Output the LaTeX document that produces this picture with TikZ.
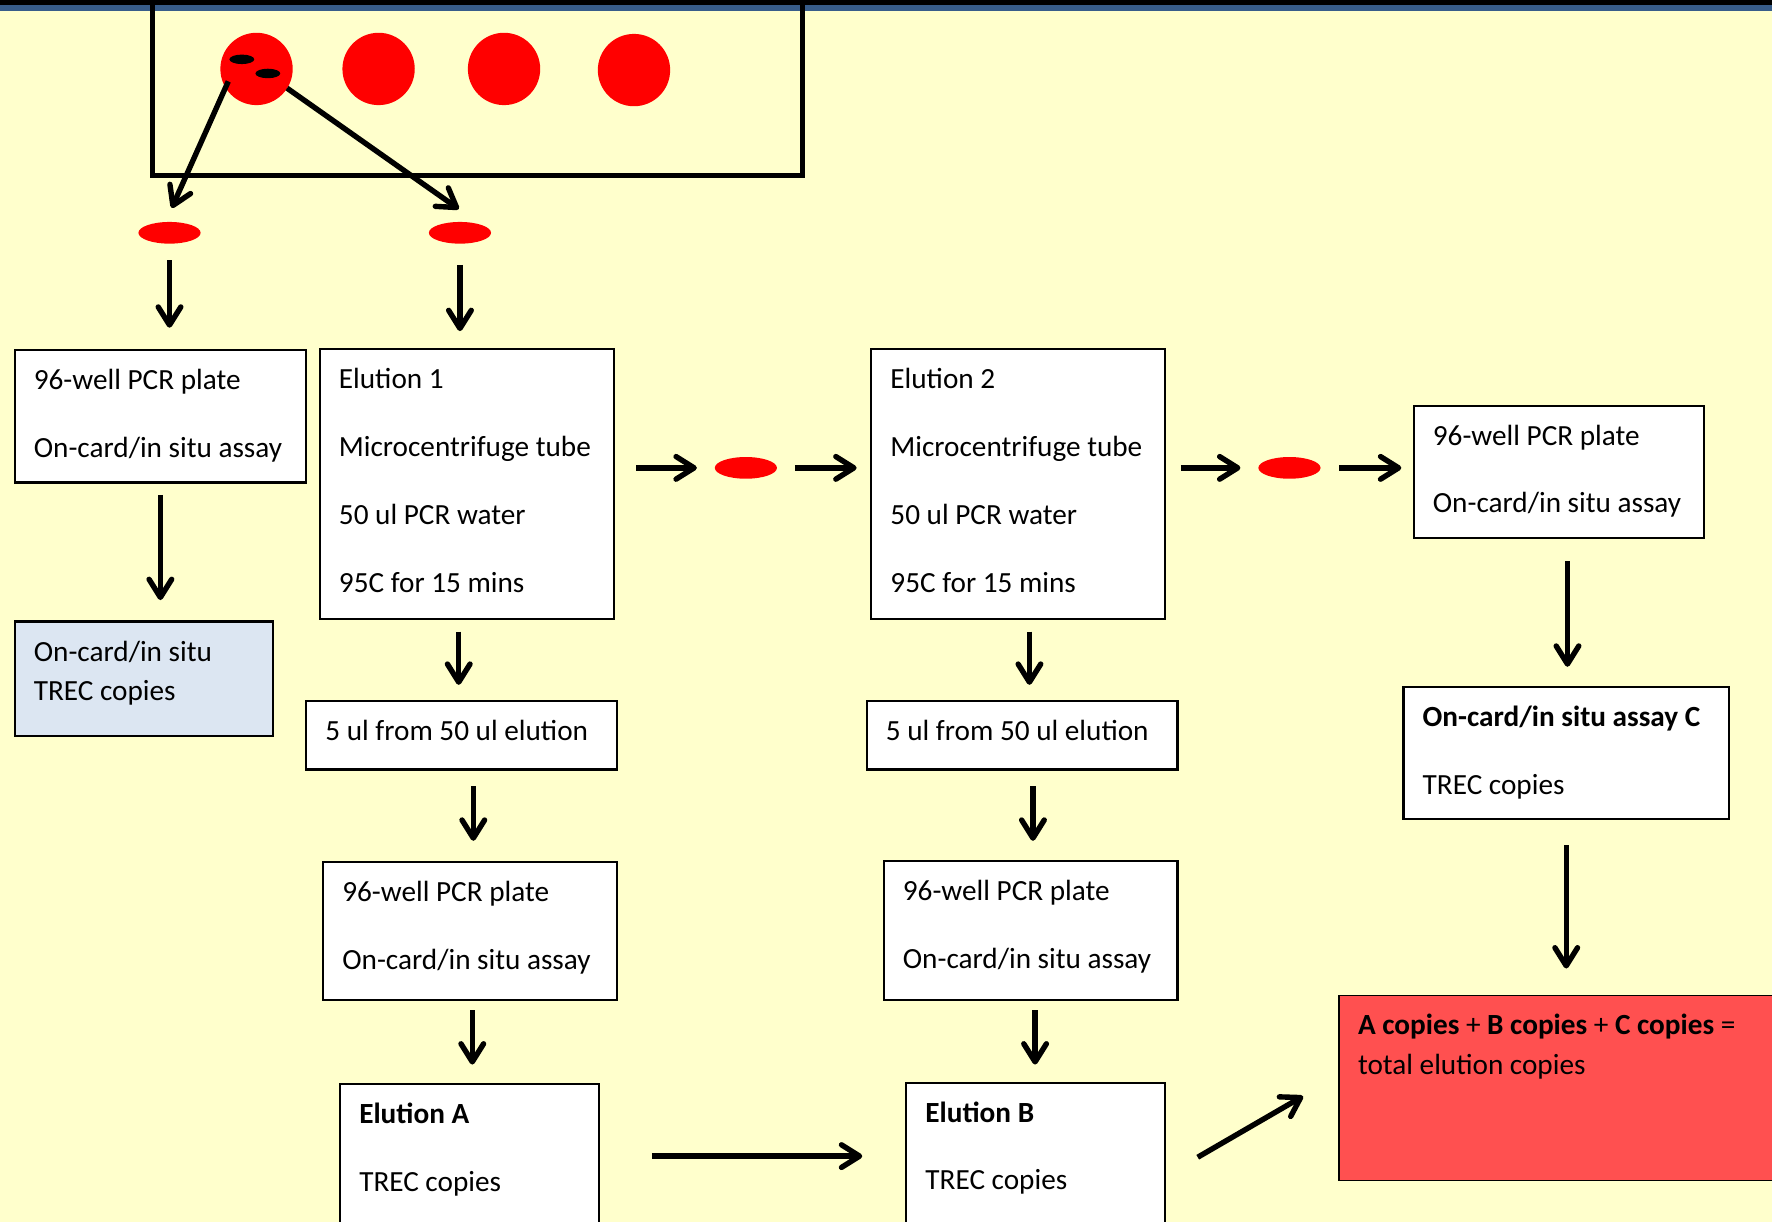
\documentclass[tikz,border=0pt]{standalone}
\usepackage{fontspec}
\setmainfont{Carlito}
\usetikzlibrary{arrows.meta, shapes.geometric, calc}

\definecolor{cardbg}{HTML}{FFFFCC}
\definecolor{barblue}{HTML}{385D8A}
\definecolor{spotred}{HTML}{FF0000}
\definecolor{sumred}{HTML}{FF5050}
\definecolor{insitublue}{HTML}{DCE6F2}

% box text: width, height, lines (top aligned)
\newcommand{\flowtext}[3]{\parbox[t][#2][t]{#1}{\hbadness=10000\leftskip=4.25mm\rightskip=0pt plus 1fil\rule{0pt}{8.75mm}#3}}

\tikzset{
  flow/.style={draw, line width=1.3pt, fill=white, anchor=north west, inner sep=0pt},
  arr/.style={-{Straight Barb[length=4mm,width=5mm,round]}, line width=3.4pt},
  spot/.style={circle, fill=spotred, minimum size=16mm, inner sep=0pt},
  punch/.style={ellipse, fill=spotred, minimum width=13.75mm, minimum height=4.8mm, inner sep=0pt},
}

\begin{document}
\begin{tikzpicture}[x=0.25mm, y=-0.25mm, font=\fontsize{18.4pt}{24.9pt}\selectfont]
    \useasboundingbox (0,0) rectangle (1568,1081);
    \clip (0,0) rectangle (1568,1081);
    \fill[cardbg] (0,0) rectangle (1568,1081);

    % Top bar
    \fill[black] (0,0) rectangle (1568,4.5);
    \fill[barblue] (0,4.5) rectangle (1568,9.5);

    % Card with blood spots
    \draw[line width=3pt] (135,-10) rectangle (710,155);
    \node[spot] (spot1) at (227,61) {};
    \node[spot] (spot2) at (335,61) {};
    \node[spot] (spot3) at (446,61) {};
    \node[spot] (spot4) at (561,62) {};
    \fill (214,52.5) ellipse (11 and 4.2);
    \fill (237,65) ellipse (11 and 4.2);

    % Punches
    \node[punch] (punch1) at (150,206) {};
    \node[punch] (punch2) at (407,206) {};
    \node[punch] (punch3) at (660,414) {};
    \node[punch] (punch4) at (1141,414) {};

    % Boxes
    \node[flow] (plate1) at (12,309) {\flowtext{64.5mm}{29.25mm}{96-well PCR plate\\[6.25mm]On-card/in situ assay}};
    \node[flow] (elu1) at (282,308) {\flowtext{65mm}{59.75mm}{Elution 1\\[6.25mm]Microcentrifuge tube\\[6.25mm]50 ul PCR water\\[6.25mm]95C for 15 mins}};
    \node[flow, fill=insitublue] (insitu) at (12,549) {\flowtext{57.25mm}{25.25mm}{On-card/in situ\\TREC copies}};
    \node[flow] (five1) at (270,619) {\flowtext{68.75mm}{15.25mm}{5 ul from 50 ul elution}};
    \node[flow] (plate2) at (285,762) {\flowtext{65mm}{30.5mm}{96-well PCR plate\\[6.25mm]On-card/in situ assay}};
    \node[flow] (eluA) at (300,958) {\flowtext{57.25mm}{40mm}{\textbf{Elution A}\\[6.25mm]TREC copies}};

    \node[flow] (elu2) at (770,308) {\flowtext{65mm}{59.75mm}{Elution 2\\[6.25mm]Microcentrifuge tube\\[6.25mm]50 ul PCR water\\[6.25mm]95C for 15 mins}};
    \node[flow] (five2) at (766,619) {\flowtext{68.75mm}{15.25mm}{5 ul from 50 ul elution}};
    \node[flow] (plate3) at (781,761) {\flowtext{65mm}{30.75mm}{96-well PCR plate\\[6.25mm]On-card/in situ assay}};
    \node[flow] (eluB) at (801,957) {\flowtext{57.25mm}{40mm}{\textbf{Elution B}\\[6.25mm]TREC copies}};

    \node[flow] (plate4) at (1250,358) {\flowtext{64.25mm}{29.25mm}{96-well PCR plate\\[6.25mm]On-card/in situ assay}};
    \node[flow] (assayC) at (1241,607) {\flowtext{72mm}{29.25mm}{\textbf{On-card/in situ assay C}\\[6.25mm]TREC copies}};
    \node[flow, fill=sumred, line width=1pt] (total) at (1184,880) {\flowtext{105mm}{41mm}{\textbf{A copies} + \textbf{B copies} + \textbf{C copies} =\\total elution copies}};

    % Arrows
    \draw[arr] ([shift={(-25,11)}]spot1.center) -- ([shift={(2,-22)}]punch1.center);
    \draw[arr] ([shift={(27,17)}]spot1.center) -- ([shift={(-1,-21)}]punch2.center);
    \draw[arr, shorten <=3.6mm, shorten >=4.75mm] (punch1.south) -- (punch1.south |- plate1.north);
    \draw[arr, shorten <=4.6mm, shorten >=3.75mm] (punch2.south) -- (punch2.south |- elu1.north);
    \draw[arr, shorten <=2.5mm, shorten >=4.5mm] (plate1.south) -- (plate1.south |- insitu.north);

    \draw[arr, shorten <=2.5mm, shorten >=3.25mm] ([xshift=-1.75mm]elu1.south) -- ([xshift=-1.75mm]elu1.south |- five1.north);
    \draw[arr, shorten <=3.5mm, shorten >=4.5mm] ([xshift=2.6mm]five1.south) -- ([xshift=2.6mm]five1.south |- plate2.north);
    \draw[arr, shorten <=2mm, shorten >=4mm] ([xshift=0.5mm]plate2.south) -- ([xshift=0.5mm]plate2.south |- eluA.north);

    \draw[arr, shorten <=2.5mm, shorten >=3.25mm] ([xshift=2.5mm]elu2.south) -- ([xshift=2.5mm]elu2.south |- five2.north);
    \draw[arr, shorten <=3.5mm, shorten >=4.25mm] ([xshift=2.4mm]five2.south) -- ([xshift=2.4mm]five2.south |- plate3.north);
    \draw[arr, shorten <=2mm, shorten >=3.75mm] ([xshift=1mm]plate3.south) -- ([xshift=1mm]plate3.south |- eluB.north);

    \draw[arr, shorten <=5mm, shorten >=4.25mm] ([xshift=1.9mm]plate4.south) -- ([xshift=1.9mm]plate4.south |- assayC.north);
    \draw[arr, shorten <=5.5mm, shorten >=5.75mm] (assayC.south) -- (assayC.south |- total.north);

    \draw[arr, shorten <=4.75mm, shorten >=3.9mm] (elu1.east |- punch3) -- (punch3.west);
    \draw[arr, shorten <=3.9mm, shorten >=3mm] (punch3.east) -- (punch3 -| elu2.west);
    \draw[arr, shorten <=3.25mm, shorten >=3.9mm] (elu2.east |- punch4) -- (punch4.west);
    \draw[arr, shorten <=4.1mm, shorten >=2.5mm] (punch4.east) -- (punch4 -| plate4.west);

    \draw[arr, shorten <=11.5mm, shorten >=9.5mm] ([yshift=-16.25mm]eluA.north east) -- ([yshift=-16.25mm]eluA.north east -| eluB.west);
    \draw[arr] ([shift={(28,67)}]eluB.north east) -- ([shift={(-31,90)}]total.north west);
\end{tikzpicture}
\end{document}
